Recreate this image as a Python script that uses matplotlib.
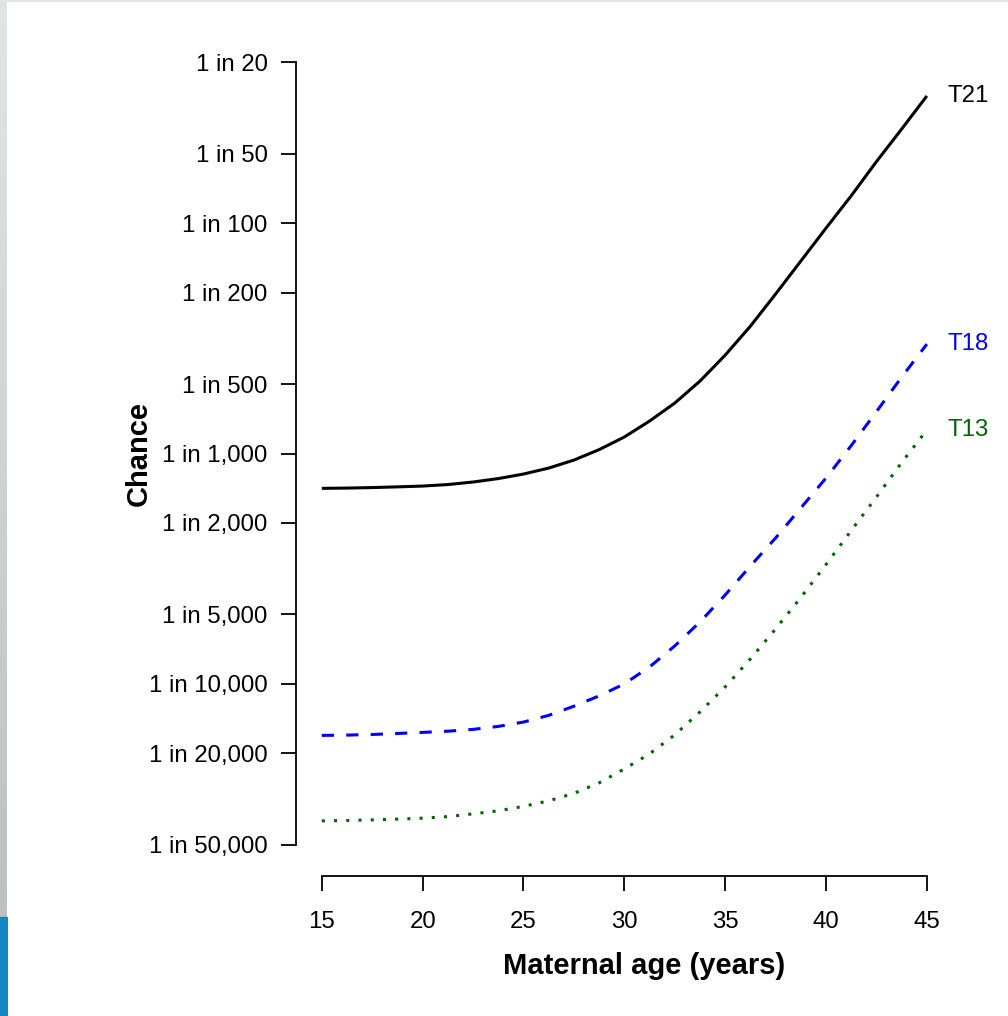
import numpy as np
import matplotlib
matplotlib.use("Agg")
import matplotlib.pyplot as plt
from matplotlib.ticker import FixedLocator, NullLocator
from matplotlib.colors import LinearSegmentedColormap

# Maternal age (years) and chance expressed as "1 in N"
age = [15, 16.25, 17.5, 18.75, 20, 21.25, 22.5, 23.75, 25, 26.25, 27.5, 28.75,
       30, 31.25, 32.5, 33.75, 35, 36.25, 37.5, 38.75, 40, 41.25, 42.5, 43.75, 45]
t21_one_in = [1417, 1413, 1406, 1396, 1385, 1364, 1330, 1285, 1228, 1157, 1068, 962,
              848, 723, 604, 485, 374, 280, 203, 146, 105, 76, 54, 39, 28]
t18_one_in = [16758, 16708, 16608, 16442, 16264, 16068, 15782, 15318, 14668, 13720,
              12516, 11292, 10016, 8452, 6850, 5390, 4116, 3080, 2328, 1725, 1278,
              924, 658, 466, 335]
t13_one_in = [39400, 39240, 39000, 38720, 38340, 37760, 36720, 35630, 34070, 32250,
              29920, 26940, 23430, 20160, 16670, 13250, 10320, 7800, 5780, 4220, 3034,
              2160, 1545, 1095, 791]

y_tick_denoms = [20, 50, 100, 200, 500, 1000, 2000, 5000, 10000, 20000, 50000]
y_tick_labels = ["1 in 20", "1 in 50", "1 in 100", "1 in 200", "1 in 500",
                 "1 in 1,000", "1 in 2,000", "1 in 5,000", "1 in 10,000",
                 "1 in 20,000", "1 in 50,000"]
x_ticks = [15, 20, 25, 30, 35, 40, 45]

series_names = ["T21", "T18", "T13"]
series_colors = ["black", "#0000FF", "#006400"]

plt.rcParams["font.family"] = ["Liberation Sans", "DejaVu Sans"]

W, H = 1008, 1016
fig = plt.figure(figsize=(W / 100, H / 100), dpi=100)
fig.patch.set_facecolor("white")

# thin window frame along the left and top edges
edge = fig.add_axes([0, 0, 6.5 / W, 1])
edge.set_axis_off()
grad = np.linspace(0, 1, 256).reshape(-1, 1)
gcm = LinearSegmentedColormap.from_list("g", ["#e3e4e6", "#b9bdbf"])
edge.imshow(grad, cmap=gcm, aspect="auto", extent=[0, 1, 0, 1], origin="upper")
edge.fill_between([0, 1], 0, (H - 917) / H, color="#1486c6")
edge.set_xlim(0, 1)
edge.set_ylim(0, 1)
topbar = fig.add_axes([0, 1 - 2 / H, 1, 2 / H])
topbar.set_axis_off()
topbar.add_patch(plt.Rectangle((0, 0), 1, 1, color="#e3e4e6", transform=topbar.transAxes))

# plotting region
left_px, right_px, top_px, bottom_px = 296, 993, 31, 876
ax = fig.add_axes([left_px / W, (H - bottom_px) / H,
                   (right_px - left_px) / W, (bottom_px - top_px) / H])

xmin, xmax = 15, 47
xr = xmax - xmin
ax.set_xlim(xmin - 0.04 * xr, xmax + 0.04 * xr)
ylo, yhi = np.log10(1 / 50000), np.log10(1 / 20)
yr = yhi - ylo
ax.set_yscale("log")
ax.set_ylim(10 ** (ylo - 0.04 * yr), 10 ** (yhi + 0.04 * yr))

lw = 2.2
age_arr = np.array(age)
ax.plot(age_arr, 1 / np.array(t21_one_in), color=series_colors[0], lw=lw,
        solid_capstyle="butt", solid_joinstyle="round")
ax.plot(age_arr, 1 / np.array(t18_one_in), color=series_colors[1], lw=lw,
        linestyle=(0, (4, 4)), dash_capstyle="butt")
ax.plot(age_arr, 1 / np.array(t13_one_in), color=series_colors[2], lw=lw,
        linestyle=(0, (1, 3)), dash_capstyle="butt")

ends = [t21_one_in[-1], t18_one_in[-1], t13_one_in[-1]]
for name, col, d in zip(series_names, series_colors, ends):
    ax.text(age[-1] + 1.0, 1 / d, name, color=col, fontsize=17.3,
            ha="left", va="center")

for s in ["top", "right"]:
    ax.spines[s].set_visible(False)
ax.spines["left"].set_bounds(1 / 50000, 1 / 20)
ax.spines["bottom"].set_bounds(15, 45)
for s in ["left", "bottom"]:
    ax.spines[s].set_linewidth(1.3)

ax.yaxis.set_major_locator(FixedLocator([1 / d for d in y_tick_denoms]))
ax.yaxis.set_minor_locator(NullLocator())
ax.set_yticklabels(y_tick_labels)
ax.set_xticks(x_ticks)
ax.set_xticklabels([str(v) for v in x_ticks])
ax.tick_params(axis="y", length=10.5, width=1.3, pad=10, labelsize=17.3)
ax.tick_params(axis="x", length=11, width=1.3, pad=14, labelsize=17.3)

ax.set_xlabel("Maternal age (years)", fontsize=21, fontweight="bold", labelpad=14)
ax.set_ylabel("Chance", fontsize=21, fontweight="bold")
ax.yaxis.set_label_coords((153 - left_px) / (right_px - left_px), 0.5)

fig.savefig("out.png", dpi=100, facecolor="white")
